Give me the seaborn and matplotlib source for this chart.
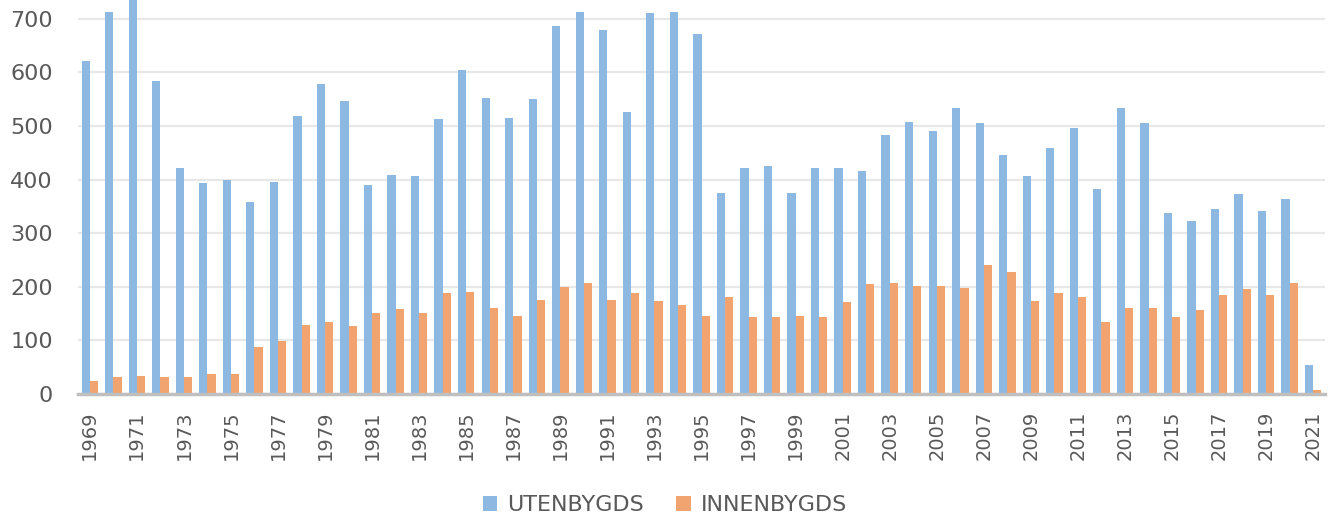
import matplotlib
matplotlib.use("Agg")
import matplotlib.pyplot as plt
import seaborn as sns
import pandas as pd
import numpy as np

years = list(range(1969, 2022))

utenbygds = [622, 713, 745, 584, 422, 394, 399, 358, 395, 519,
             578, 547, 390, 409, 407, 513, 604, 552, 515, 550,
             687, 713, 679, 526, 711, 713, 672, 375, 422, 425,
             375, 422, 422, 416, 483, 507, 491, 534, 506, 446,
             407, 459, 496, 382, 534, 506, 338, 323, 345, 373,
             342, 364, 54]

innenbygds = [24, 31, 34, 31, 31, 38, 38, 88, 98, 129,
              134, 127, 151, 158, 151, 188, 191, 160, 146, 175,
              199, 208, 176, 188, 174, 166, 146, 181, 143, 143,
              146, 143, 172, 205, 208, 201, 201, 198, 241, 227,
              174, 188, 181, 134, 160, 160, 143, 157, 184, 196,
              184, 208, 7]

series_names = ["UTENBYGDS", "INNENBYGDS"]
colors = ["#8DB8E2", "#F1A46F"]

df = pd.DataFrame({
    "year": [str(y) for y in years] * 2,
    "value": utenbygds + innenbygds,
    "serie": [series_names[0]] * len(years) + [series_names[1]] * len(years),
})

fig = plt.figure(figsize=(13.32, 5.16), dpi=100)
ax = fig.add_axes([78 / 1332, 1 - 394 / 516, (1325 - 78) / 1332, 394 / 516])

sns.barplot(data=df, x="year", y="value", hue="serie", palette=colors,
            saturation=1, width=0.7, ax=ax, legend=True)

ax.set_ylim(0, 735)
ax.set_xlim(-0.5, len(years) - 0.5)
ax.set_yticks(range(0, 800, 100))
ax.yaxis.grid(True, color="#e8e8e8", linewidth=1.6)
ax.set_axisbelow(True)

# only every other year labelled
ax.set_xticks(range(0, len(years), 2))
ax.set_xticklabels([str(y) for y in years[::2]], rotation=90)

ax.tick_params(axis="both", length=0, colors="#595959")
ax.tick_params(axis="y", labelsize=16, pad=18)
ax.tick_params(axis="x", labelsize=14, pad=12)
ax.set_xlabel("")
ax.set_ylabel("")

for side in ["top", "right", "left"]:
    ax.spines[side].set_visible(False)
ax.spines["bottom"].set_color("#bfbfbf")
ax.spines["bottom"].set_linewidth(2.5)

handles, labels = ax.get_legend_handles_labels()
ax.legend_.remove()
fig.legend(handles=handles, labels=labels, loc="center", bbox_to_anchor=(665 / 1332, 1 - 505 / 516),
           ncol=2, frameon=False, fontsize=16, labelcolor="#595959",
           handlelength=0.65, handleheight=0.65, handletextpad=0.45, columnspacing=1.45)

plt.savefig("out.png", dpi=100)
